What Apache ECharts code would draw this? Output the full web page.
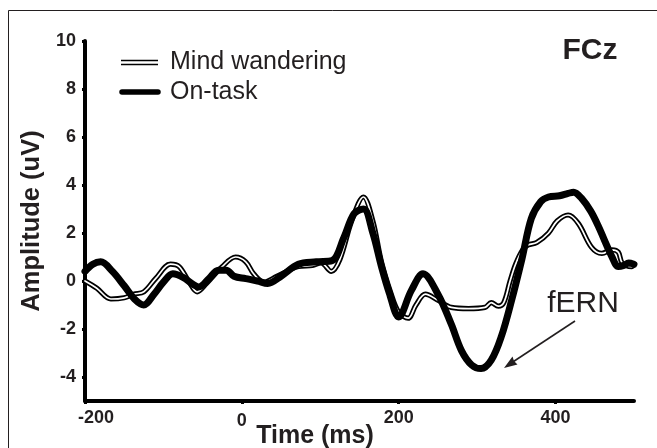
<!DOCTYPE html>
<html>
<head>
<meta charset="utf-8">
<script src="https://cdn.jsdelivr.net/npm/echarts@6/dist/echarts.min.js"></script>
<style>
html,body{margin:0;padding:0;background:#fff;}
#chart{width:657px;height:448px;}
</style>
</head>
<body>
<div id="chart"></div>
<script>
// Time (ms) sample points and amplitudes (uV)
const onTaskTime = [-200,-190,-180,-165,-150,-137,-125,-112,-100,-88,-75,-62,-55,-42,-30,-20,-10,5,20,33,50,72,95,115,130,143,155,167,178,188,200,216,231,250,267,280,293,305,318,331,344,357,369,381,391,405,416,423,433,445,455,465,472,480,487,493,500];
const onTaskAmp  = [0.4,0.7,0.8,0.4,-0.2,-0.75,-1.0,-0.55,-0.05,0.3,0.15,-0.15,-0.25,0.1,0.45,0.45,0.2,0.1,0.0,-0.1,0.2,0.7,0.8,0.85,1.8,2.8,3.0,2.0,0.6,-0.5,-1.5,-0.4,0.3,-0.55,-1.8,-2.9,-3.5,-3.65,-3.3,-2.3,-0.8,0.9,2.6,3.3,3.5,3.55,3.65,3.7,3.45,2.9,2.25,1.5,1.0,0.6,0.65,0.75,0.7];

const mindTime = [-200,-185,-167,-150,-138,-125,-110,-91,-80,-68,-57,-45,-25,-8,5,15,28,45,72,90,101,114,125,140,155,167,178,190,200,212,222,234,250,267,289,310,318,327,334,342,349,358,365,376,391,402,416,429,446,459,472,480,485,497,500];
const mindAmp  = [0.0,-0.3,-0.75,-0.7,-0.55,-0.45,0.1,0.7,0.6,0.0,-0.45,-0.1,0.6,1.0,0.8,0.3,-0.05,0.2,0.6,0.65,0.75,0.4,0.9,2.5,3.5,2.5,0.8,-0.5,-1.3,-1.55,-1.0,-0.55,-0.8,-1.1,-1.15,-1.1,-0.9,-1.05,-0.9,0.0,0.7,1.3,1.5,1.6,2.0,2.5,2.75,2.4,1.4,1.15,1.3,1.2,0.75,0.6,0.7];

const xTicks = [-200, 0, 200, 400];
const yTicks = [-4, -2, 0, 2, 4, 6, 8, 10];
const seriesNames = ['Mind wandering', 'On-task'];

const zip = (a, b) => a.map((v, i) => [v, b[i]]);
const FONT = '"Liberation Sans", Arial, sans-serif';
const INK = '#231f20';
const tickFont = {color: INK, fontSize: 18, fontWeight: 'bold', fontFamily: FONT};

const chart = echarts.init(document.getElementById('chart'), null, {renderer: 'canvas'});
chart.setOption({
  animation: false,
  backgroundColor: '#fff',
  grid: {left: 85, right: 23, top: 41, bottom: 47},
  xAxis: {
    type: 'value', min: -200, max: 500,
    axisLine: {show: true, onZero: false, lineStyle: {color: '#000', width: 4}},
    axisTick: {show: true, customValues: xTicks, length: 3, lineStyle: {color: '#000', width: 3}},
    axisLabel: Object.assign({customValues: xTicks, margin: 8,
      formatter: v => v === -200 ? '{s|-200}' : (v === 0 ? '{z|0}' : String(v)),
      rich: {s: Object.assign({padding: [0, 0, 0, 22]}, tickFont), z: Object.assign({padding: [3, 0, 0, 0]}, tickFont)}
    }, tickFont),
    splitLine: {show: false}
  },
  yAxis: {
    type: 'value', min: -5, max: 10,
    name: 'Amplitude (uV)', nameLocation: 'middle', nameGap: 29,
    nameTextStyle: {color: INK, fontSize: 25.5, fontWeight: 'bold', fontFamily: FONT},
    axisLine: {show: true, onZero: false, lineStyle: {color: '#000', width: 4}},
    axisTick: {show: true, customValues: yTicks, length: 3, lineStyle: {color: '#000', width: 3}},
    axisLabel: Object.assign({customValues: yTicks, margin: 9}, tickFont),
    splitLine: {show: false}
  },
  series: [
    {name: seriesNames[0], type: 'line', data: zip(mindTime, mindAmp), smooth: 0.35, showSymbol: false, z: 2,
     lineStyle: {color: '#000', width: 5.2, cap: 'round', join: 'round'}},
    {name: seriesNames[0] + ' inner', type: 'line', data: zip(mindTime, mindAmp), smooth: 0.35, showSymbol: false, z: 3,
     lineStyle: {color: '#fff', width: 1.7, cap: 'round', join: 'round'}},
    {name: seriesNames[1], type: 'line', data: zip(onTaskTime, onTaskAmp), smooth: 0.35, showSymbol: false, z: 4,
     lineStyle: {color: '#000', width: 7, cap: 'round', join: 'round'}}
  ],
  graphic: [
    // frame
    {type: 'line', shape: {x1: 8.5, y1: 10.5, x2: 657, y2: 10.5}, style: {stroke: INK, lineWidth: 1}},
    {type: 'line', shape: {x1: 8.5, y1: 10.5, x2: 8.5, y2: 448}, style: {stroke: INK, lineWidth: 1}},
    // legend
    {type: 'line', shape: {x1: 121, y1: 60.5, x2: 158, y2: 60.5}, style: {stroke: '#000', lineWidth: 1.6}},
    {type: 'line', shape: {x1: 121, y1: 64.5, x2: 158, y2: 64.5}, style: {stroke: '#000', lineWidth: 1.6}},
    {type: 'text', x: 170, y: 62, style: {text: seriesNames[0], font: '25px ' + FONT, fill: INK, verticalAlign: 'middle', align: 'left'}},
    {type: 'line', shape: {x1: 122, y1: 92, x2: 158, y2: 92}, style: {stroke: '#000', lineWidth: 5.5, lineCap: 'round'}},
    {type: 'text', x: 170, y: 92, style: {text: seriesNames[1], font: '25px ' + FONT, fill: INK, verticalAlign: 'middle', align: 'left'}},
    // channel label
    {type: 'text', x: 590, y: 51, style: {text: 'FCz', font: 'bold 30px ' + FONT, fill: INK, verticalAlign: 'middle', align: 'center'}},
    // x axis title
    {type: 'text', x: 315, y: 436, style: {text: 'Time (ms)', font: 'bold 25px ' + FONT, fill: INK, verticalAlign: 'middle', align: 'center'}},
    // fERN annotation
    {type: 'text', x: 583, y: 304, style: {text: 'fERN', font: '30px ' + FONT, fill: INK, verticalAlign: 'middle', align: 'center'}},
    {type: 'line', shape: {x1: 575, y1: 321, x2: 512, y2: 362.5}, style: {stroke: INK, lineWidth: 1.6}},
    {type: 'polygon', shape: {points: [[504, 368], [517.5, 364.5], [514, 361], [512.5, 356.5]]}, style: {fill: INK}}
  ]
});
</script>
</body>
</html>
